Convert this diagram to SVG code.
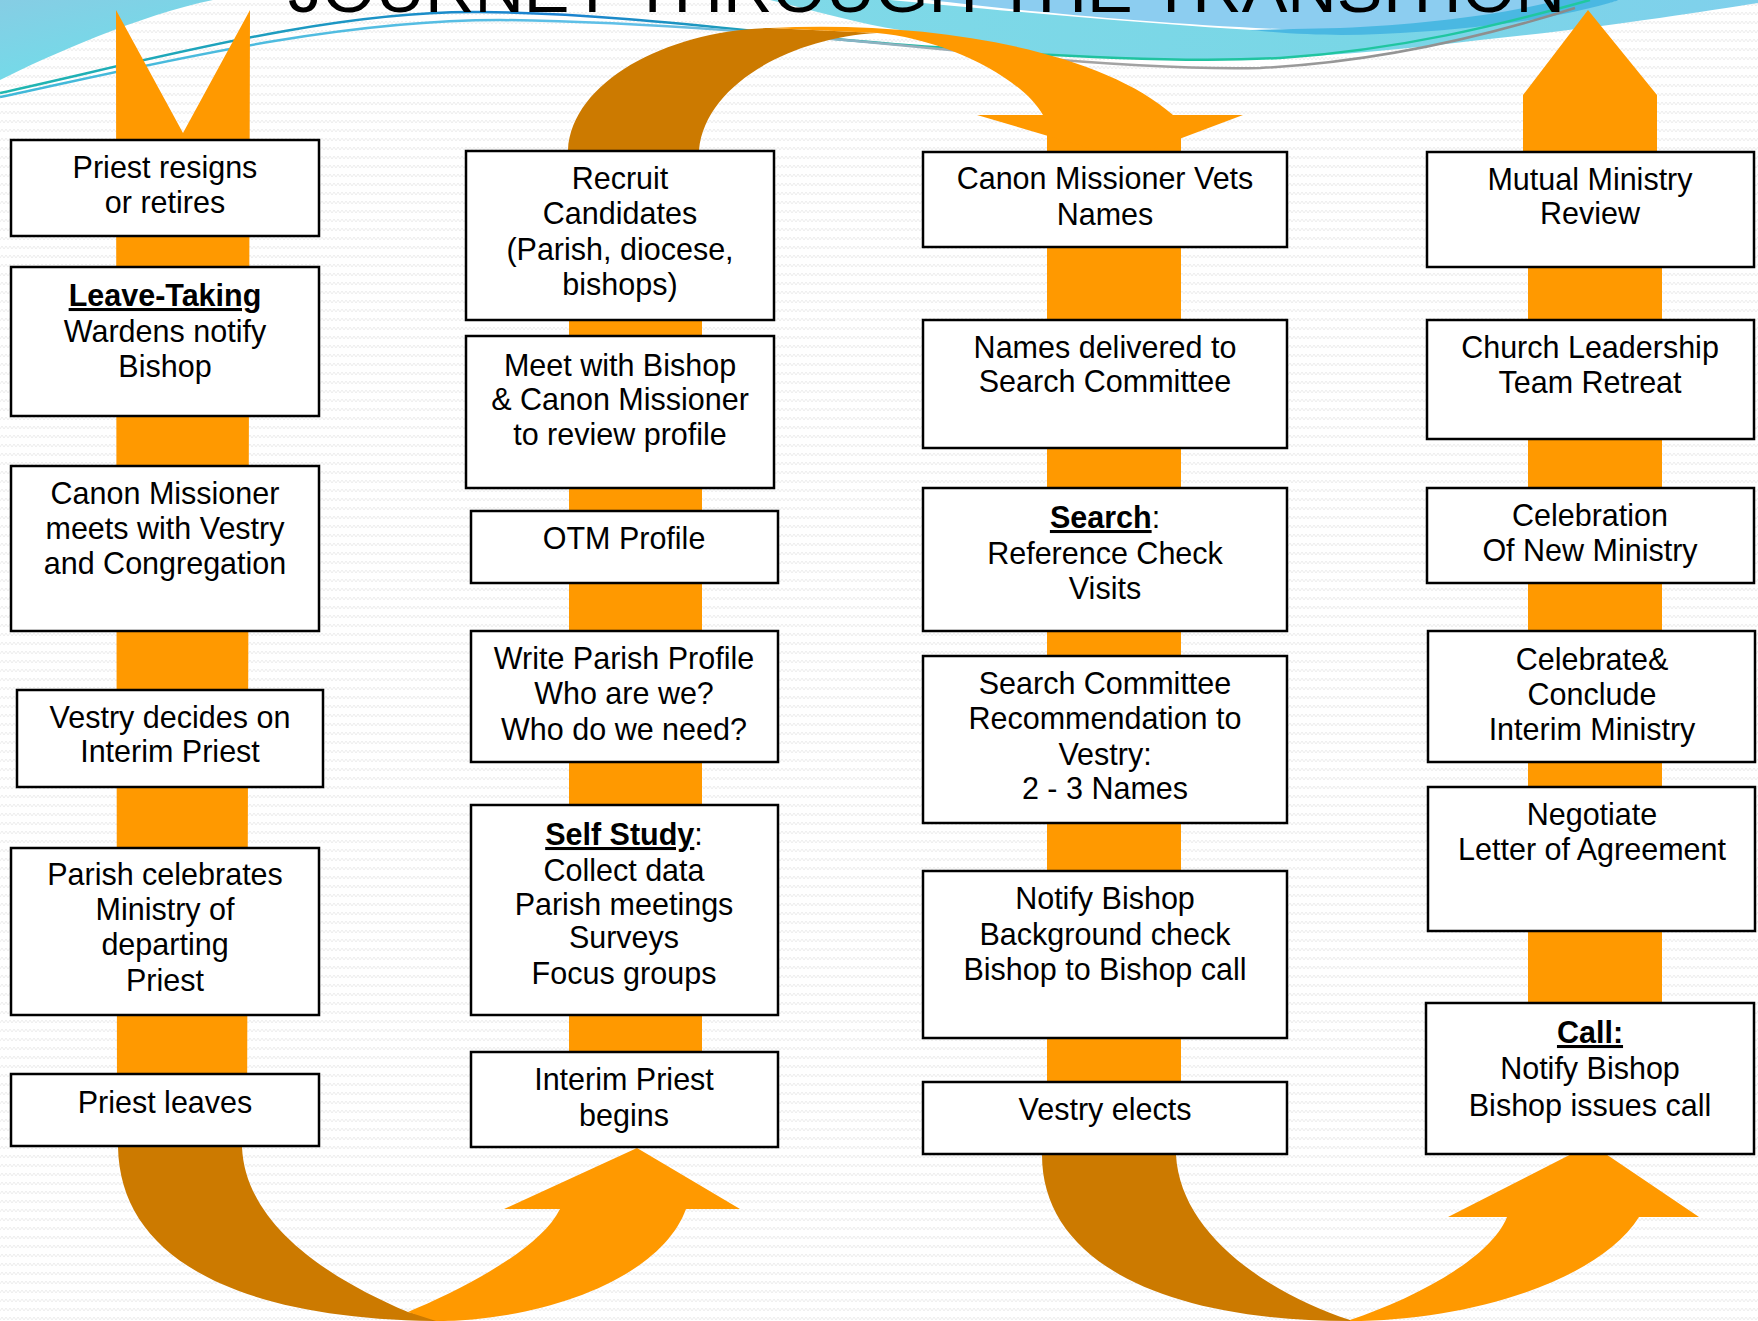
<svg xmlns="http://www.w3.org/2000/svg" width="1758" height="1321" viewBox="0 0 1758 1321">
<defs>
<pattern id="bgp" width="8" height="9" patternUnits="userSpaceOnUse"><path d="M0,6 L2,3 L4,6 L6,3 L8,6" fill="none" stroke="#ededed" stroke-width="1"/></pattern>
<linearGradient id="gl" x1="0" y1="0" x2="0.6" y2="1"><stop offset="0" stop-color="#86cde4"/><stop offset="1" stop-color="#6fdeea"/></linearGradient>
<linearGradient id="gr" x1="0" y1="0" x2="1" y2="0"><stop offset="0" stop-color="#7fd9e8"/><stop offset="0.6" stop-color="#79d6e6"/><stop offset="1" stop-color="#80d0ec"/></linearGradient>
<linearGradient id="la" x1="0" y1="0" x2="1" y2="0"><stop offset="0" stop-color="#20b8b0"/><stop offset="0.35" stop-color="#1a80d0"/><stop offset="0.6" stop-color="#20c0a0"/><stop offset="1" stop-color="#20c8a0"/></linearGradient>
<linearGradient id="lb" x1="0" y1="0" x2="1" y2="0"><stop offset="0" stop-color="#40b8d8"/><stop offset="0.4" stop-color="#60c0e8"/><stop offset="0.65" stop-color="#a8a8a8"/><stop offset="1" stop-color="#8a8a8a"/></linearGradient>
<style>
.box{fill:#fff;stroke:#000;stroke-width:2.5}
.t{font-family:"Liberation Sans",Arial,sans-serif;font-size:30.5px;fill:#000;text-anchor:middle}
.b{font-weight:bold;text-decoration:underline}
.lo{fill:#FF9900}
.do{fill:#CC7A00}
</style>
</defs>
<rect width="1758" height="1321" fill="#fff"/>
<rect width="1758" height="1321" fill="url(#bgp)"/>
<g id="background-swoosh">
<path d="M0,0 L213,0 C140,15 50,55 0,80 Z" fill="url(#gl)"/>
<path d="M770,0 C820,12 860,24 900,30 C960,42 1010,52 1064,55 C1120,59 1180,61 1228,60 C1320,57 1400,50 1480,40 C1600,28 1700,12 1758,3 L1758,0 Z" fill="url(#gr)"/>
<path d="M890,0 C1000,10 1200,30 1340,34 C1450,30 1560,15 1620,0 Z" fill="#fff"/>
<path d="M930,0 C1030,12 1200,28 1340,31 C1450,28 1550,14 1600,0 Z" fill="#8ccdf0"/>
<path d="M1250,30 C1300,35 1340,36 1380,34 C1480,30 1560,18 1620,0 L1560,0 C1500,15 1420,25 1340,28 Z" fill="#4ab8e2"/>
<path d="M0,93 C150,60 330,10 480,12 C650,14 800,40 950,48 C1080,58 1200,62 1280,58 C1400,50 1500,25 1590,0" fill="none" stroke="url(#la)" stroke-width="2.5"/>
<path d="M0,97 C150,65 330,20 500,20 C650,22 800,35 950,50 C1080,63 1180,70 1260,68 C1380,62 1490,35 1575,8" fill="none" stroke="url(#lb)" stroke-width="2.5"/>
</g>
<text x="288" y="12" font-family="Liberation Sans, Arial, sans-serif" font-size="64" textLength="1277" lengthAdjust="spacingAndGlyphs" fill="#000">JOURNEY THROUGH THE TRANSITION</text>
<g id="connectors">
<polygon class="lo" points="116,10 183,133 250,10 247,1140 117,1140"/>
<rect class="lo" x="569" y="153" width="133" height="987"/>
<rect class="lo" x="1047" y="117" width="134" height="1030"/>
<polygon class="lo" points="1523,95 1588,10 1657,95 1657,267 1662,267 1662,1150 1528,1150 1528,267 1523,267"/>
<path class="do" d="M568,150 C572,80 670,30 770,28 L877,33 C790,38 705,85 699,150 Z"/>
<path class="lo" d="M770,28 C930,20 1100,50 1173,115 L1243,115 L1126,159 L977,115 L1043,115 C1020,75 940,38 877,33 Z"/>
<path class="do" d="M118,1147 C120,1260 240,1321 448,1321 L408,1312 C320,1275 245,1220 242,1147 Z"/>
<path class="lo" d="M408,1312 C460,1290 540,1250 560,1209 L504,1209 L637,1148 L740,1209 L686,1209 C660,1280 540,1321 436,1321 Z"/>
<path class="do" d="M1042,1155 C1042,1260 1160,1321 1350,1321 L1350,1320 C1260,1290 1180,1230 1176,1155 Z"/>
<path class="lo" d="M1350,1320 C1410,1300 1490,1260 1507,1217 L1448,1217 L1591,1144 L1699,1217 L1639,1217 C1600,1280 1470,1321 1350,1321 Z"/>
</g>
<g id="n1"><rect class="box" x="11" y="140" width="308" height="96"/><text class="t" x="165" y="178">Priest resigns</text><text class="t" x="165" y="213">or retires</text></g>
<g id="n2"><rect class="box" x="11" y="267" width="308" height="149"/><text class="t" x="165" y="306"><tspan class="b">Leave-Taking</tspan></text><text class="t" x="165" y="342">Wardens notify</text><text class="t" x="165" y="377">Bishop</text></g>
<g id="n3"><rect class="box" x="11" y="466" width="308" height="165"/><text class="t" x="165" y="504">Canon Missioner</text><text class="t" x="165" y="539">meets with Vestry</text><text class="t" x="165" y="574">and Congregation</text></g>
<g id="n4"><rect class="box" x="17" y="690" width="306" height="97"/><text class="t" x="170" y="728">Vestry decides on</text><text class="t" x="170" y="762">Interim Priest</text></g>
<g id="n5"><rect class="box" x="11" y="848" width="308" height="167"/><text class="t" x="165" y="885">Parish celebrates</text><text class="t" x="165" y="920">Ministry of</text><text class="t" x="165" y="955">departing</text><text class="t" x="165" y="991">Priest</text></g>
<g id="n6"><rect class="box" x="11" y="1074" width="308" height="72"/><text class="t" x="165" y="1113">Priest leaves</text></g>
<g id="m1"><rect class="box" x="466" y="151" width="308" height="169"/><text class="t" x="620" y="189">Recruit</text><text class="t" x="620" y="224">Candidates</text><text class="t" x="620" y="260">(Parish, diocese,</text><text class="t" x="620" y="295">bishops)</text></g>
<g id="m2"><rect class="box" x="466" y="336" width="308" height="152"/><text class="t" x="620" y="376">Meet with Bishop</text><text class="t" x="620" y="410">&amp; Canon Missioner</text><text class="t" x="620" y="445">to review profile</text></g>
<g id="m3"><rect class="box" x="471" y="511" width="307" height="72"/><text class="t" x="624" y="549">OTM Profile</text></g>
<g id="m4"><rect class="box" x="471" y="631" width="307" height="131"/><text class="t" x="624" y="669">Write Parish Profile</text><text class="t" x="624" y="704">Who are we?</text><text class="t" x="624" y="740">Who do we need?</text></g>
<g id="m5"><rect class="box" x="471" y="805" width="307" height="210"/><text class="t" x="624" y="845"><tspan class="b">Self Study</tspan>:</text><text class="t" x="624" y="881">Collect data</text><text class="t" x="624" y="915">Parish meetings</text><text class="t" x="624" y="948">Surveys</text><text class="t" x="624" y="984">Focus groups</text></g>
<g id="m6"><rect class="box" x="471" y="1052" width="307" height="95"/><text class="t" x="624" y="1090">Interim Priest</text><text class="t" x="624" y="1126">begins</text></g>
<g id="p1"><rect class="box" x="923" y="152" width="364" height="95"/><text class="t" x="1105" y="189">Canon Missioner Vets</text><text class="t" x="1105" y="225">Names</text></g>
<g id="p2"><rect class="box" x="923" y="320" width="364" height="128"/><text class="t" x="1105" y="358">Names delivered to</text><text class="t" x="1105" y="392">Search Committee</text></g>
<g id="p3"><rect class="box" x="923" y="488" width="364" height="143"/><text class="t" x="1105" y="528"><tspan class="b">Search</tspan>:</text><text class="t" x="1105" y="564">Reference Check</text><text class="t" x="1105" y="599">Visits</text></g>
<g id="p4"><rect class="box" x="923" y="656" width="364" height="167"/><text class="t" x="1105" y="694">Search Committee</text><text class="t" x="1105" y="729">Recommendation to</text><text class="t" x="1105" y="765">Vestry:</text><text class="t" x="1105" y="799">2 - 3 Names</text></g>
<g id="p5"><rect class="box" x="923" y="871" width="364" height="167"/><text class="t" x="1105" y="909">Notify Bishop</text><text class="t" x="1105" y="945">Background check</text><text class="t" x="1105" y="980">Bishop to Bishop call</text></g>
<g id="p6"><rect class="box" x="923" y="1082" width="364" height="72"/><text class="t" x="1105" y="1120">Vestry elects</text></g>
<g id="q1"><rect class="box" x="1427" y="152" width="327" height="115"/><text class="t" x="1590" y="190">Mutual Ministry</text><text class="t" x="1590" y="224">Review</text></g>
<g id="q2"><rect class="box" x="1427" y="320" width="327" height="119"/><text class="t" x="1590" y="358">Church Leadership</text><text class="t" x="1590" y="393">Team Retreat</text></g>
<g id="q3"><rect class="box" x="1427" y="488" width="327" height="95"/><text class="t" x="1590" y="526">Celebration</text><text class="t" x="1590" y="561">Of New Ministry</text></g>
<g id="q4"><rect class="box" x="1428" y="631" width="327" height="131"/><text class="t" x="1592" y="670">Celebrate&amp;</text><text class="t" x="1592" y="705">Conclude</text><text class="t" x="1592" y="740">Interim Ministry</text></g>
<g id="q5"><rect class="box" x="1428" y="787" width="327" height="144"/><text class="t" x="1592" y="825">Negotiate</text><text class="t" x="1592" y="860">Letter of Agreement</text></g>
<g id="q6"><rect class="box" x="1426" y="1003" width="328" height="151"/><text class="t" x="1590" y="1043"><tspan class="b">Call:</tspan></text><text class="t" x="1590" y="1079">Notify Bishop</text><text class="t" x="1590" y="1116">Bishop issues call</text></g>
</svg>
